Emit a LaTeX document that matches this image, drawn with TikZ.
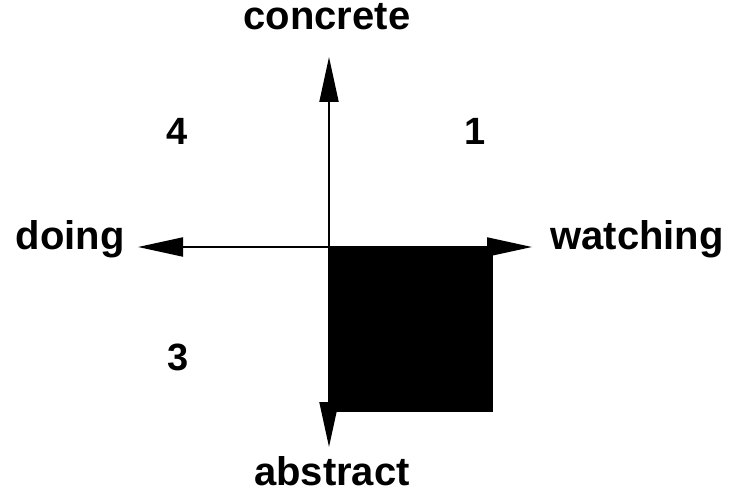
\documentclass[tikz,border=0pt]{standalone}
\usepackage{fontspec}
\setmainfont{Liberation Sans}
\usetikzlibrary{arrows.meta}
\begin{document}
\begin{tikzpicture}[x=0.5pt,y=-0.5pt,
  axis/.style={line width=1pt,-{Triangle[length=22.5pt,width=9.5pt]}},
  lbl/.style={font=\fontsize{20}{20}\bfseries\selectfont,inner sep=0pt},
  num/.style={font=\fontsize{19}{19}\bfseries\selectfont,inner sep=0pt}]
\useasboundingbox (0,0) rectangle (731,497);
\coordinate (O) at (329,247);
\coordinate (top) at (329,57);
\coordinate (bot) at (329,447);
\coordinate (left) at (138,247);
\coordinate (right) at (532,247);
\coordinate (sq) at (493,412);
\fill[black] (O) rectangle (sq);
\draw[axis] (O) -- (top);
\draw[axis] (O) -- (bot);
\draw[axis] (O) -- (left);
\draw[axis] (O) -- (right);
\node[lbl,anchor=base] (concrete) at (327,30) {concrete};
\node[lbl,anchor=base] (abstract) at (332,485) {abstract};
\node[lbl,anchor=base] (doing) at (70,249) {doing};
\node[lbl,anchor=base] (watching) at (637,249) {watching};
\node[num] (n4) at (177,131) {4};
\node[num] (n1) at (475,131) {1};
\node[num] (n3) at (178,357) {3};
\end{tikzpicture}
\end{document}
